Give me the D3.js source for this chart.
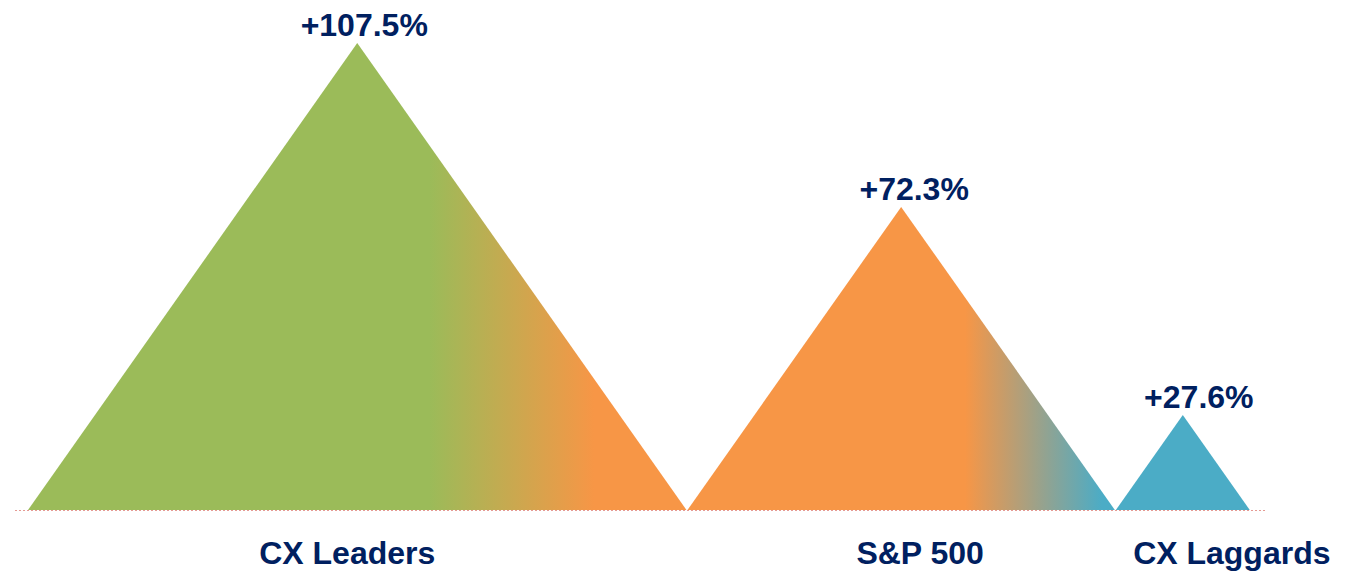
<!DOCTYPE html>
<html>
<head>
<meta charset="utf-8">
<script src="https://cdn.jsdelivr.net/npm/d3@7"></script>
<style>
  body { margin: 0; background: #fff; }
  svg { display: block; }
  text { font-family: "Liberation Sans", Arial, sans-serif; font-weight: bold; fill: #002060; }
</style>
</head>
<body>
<svg id="chart"></svg>
<script>
var categories = ["CX Leaders", "S&P 500", "CX Laggards"];
var values = [107.5, 72.3, 27.6];
var valueLabels = ["+107.5%", "+72.3%", "+27.6%"];
// colour of each triangle: [left colour, right colour, blend start, blend end]
var fills = [
    ["#9BBB59", "#F79646", 0.61, 0.86],
    ["#F79646", "#4BACC6", 0.65, 0.97],
    ["#4BACC6", "#4BACC6", 0, 1]
];

var width = 1346, height = 578;
var baseY = 510, startX = 28;
var labelShift = [-10, 19, 49];

var svg = d3.select("#chart")
    .attr("width", width)
    .attr("height", height);

// apex height; triangles are similar in shape
var y = d3.scaleLinear().domain([7.2, 107.5]).range([baseY, 43]);
var halfRatio = 0.705;

var tris = [];
var x0 = startX;
values.forEach(function(v, i){
    var h = baseY - y(v);
    var hw = h * halfRatio;
    tris.push({v: v, left: x0, cx: x0 + hw, right: x0 + 2 * hw, top: y(v), i: i});
    x0 += 2 * hw + 1;
});

var defs = svg.append("defs");
tris.forEach(function(t, i){
    var f = fills[i];
    var g = defs.append("linearGradient")
        .attr("id", "grad" + i)
        .attr("gradientUnits", "userSpaceOnUse")
        .attr("x1", t.left).attr("x2", t.right)
        .attr("y1", 0).attr("y2", 0);
    g.append("stop").attr("offset", f[2]).attr("stop-color", f[0]);
    g.append("stop").attr("offset", f[3]).attr("stop-color", f[1]);
});

// baseline
svg.append("line")
    .attr("x1", 15).attr("x2", 1265)
    .attr("y1", baseY + 0.5).attr("y2", baseY + 0.5)
    .attr("stroke", "#E59A93")
    .attr("stroke-width", 1)
    .attr("stroke-dasharray", "2,2");

svg.selectAll("path.tri")
    .data(tris)
    .enter()
    .append("path")
    .attr("class", "tri")
    .attr("d", function(d){
        return "M" + d.left + "," + baseY + "L" + d.cx + "," + d.top + "L" + d.right + "," + baseY + "Z";
    })
    .attr("fill", function(d){ return "url(#grad" + d.i + ")"; });

svg.selectAll("text.val")
    .data(tris)
    .enter()
    .append("text")
    .attr("class", "val")
    .attr("x", function(d){ return d.cx + [7, 13, 16][d.i]; })
    .attr("y", function(d){ return d.top - 7; })
    .attr("text-anchor", "middle")
    .attr("font-size", 32)
    .text(function(d){ return valueLabels[d.i]; });

svg.selectAll("text.cat")
    .data(tris)
    .enter()
    .append("text")
    .attr("class", "cat")
    .attr("x", function(d){ return d.cx + labelShift[d.i]; })
    .attr("y", 564)
    .attr("text-anchor", "middle")
    .attr("font-size", 32)
    .text(function(d){ return categories[d.i]; });
</script>
</body>
</html>
